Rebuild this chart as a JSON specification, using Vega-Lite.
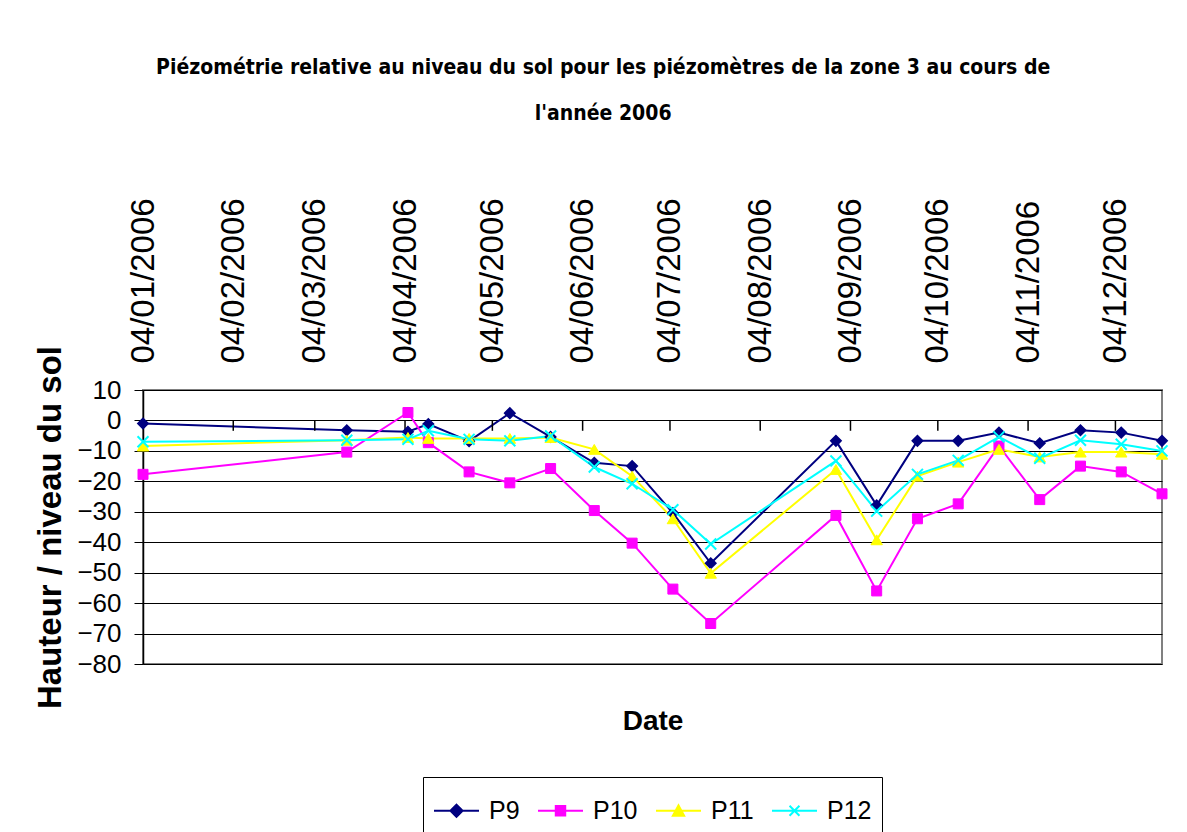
{
  "$schema": "https://vega.github.io/schema/vega-lite/v6.json",
  "width": 1019,
  "height": 274,
  "padding": {"left": 34, "top": 56, "right": 20, "bottom": 0},
  "background": "white",
  "title": {
    "text": ["Piézométrie relative au niveau du sol pour les piézomètres de la zone 3 au cours de", "l'année 2006"],
    "font": "DejaVu Sans Condensed",
    "fontSize": 21,
    "fontWeight": "bold",
    "lineHeight": 46,
    "anchor": "middle",
    "frame": "bounds",
    "offset": 74,
    "color": "black"
  },
  "datasets": {
    "obs": [
      {"date": "2006/01/04", "series": "P9", "value": -1.0},
      {"date": "2006/03/15", "series": "P9", "value": -3.2},
      {"date": "2006/04/05", "series": "P9", "value": -3.7},
      {"date": "2006/04/12", "series": "P9", "value": -1.2},
      {"date": "2006/04/26", "series": "P9", "value": -6.8},
      {"date": "2006/05/10", "series": "P9", "value": 2.4},
      {"date": "2006/05/24", "series": "P9", "value": -5.4},
      {"date": "2006/06/08", "series": "P9", "value": -13.9},
      {"date": "2006/06/21", "series": "P9", "value": -15.0},
      {"date": "2006/07/05", "series": "P9", "value": -30.4},
      {"date": "2006/07/18", "series": "P9", "value": -46.9},
      {"date": "2006/08/30", "series": "P9", "value": -6.7},
      {"date": "2006/09/13", "series": "P9", "value": -27.9},
      {"date": "2006/09/27", "series": "P9", "value": -6.7},
      {"date": "2006/10/11", "series": "P9", "value": -6.7},
      {"date": "2006/10/25", "series": "P9", "value": -4.0},
      {"date": "2006/11/08", "series": "P9", "value": -7.5},
      {"date": "2006/11/22", "series": "P9", "value": -3.2},
      {"date": "2006/12/06", "series": "P9", "value": -4.0},
      {"date": "2006/12/20", "series": "P9", "value": -6.7},
      {"date": "2006/01/04", "series": "P10", "value": -17.7},
      {"date": "2006/03/15", "series": "P10", "value": -10.4},
      {"date": "2006/04/05", "series": "P10", "value": 2.6},
      {"date": "2006/04/12", "series": "P10", "value": -7.3},
      {"date": "2006/04/26", "series": "P10", "value": -16.9},
      {"date": "2006/05/10", "series": "P10", "value": -20.5},
      {"date": "2006/05/24", "series": "P10", "value": -15.8},
      {"date": "2006/06/08", "series": "P10", "value": -29.6},
      {"date": "2006/06/21", "series": "P10", "value": -40.3},
      {"date": "2006/07/05", "series": "P10", "value": -55.4},
      {"date": "2006/07/18", "series": "P10", "value": -66.7},
      {"date": "2006/08/30", "series": "P10", "value": -31.2},
      {"date": "2006/09/13", "series": "P10", "value": -56.0},
      {"date": "2006/09/27", "series": "P10", "value": -32.3},
      {"date": "2006/10/11", "series": "P10", "value": -27.4},
      {"date": "2006/10/25", "series": "P10", "value": -8.4},
      {"date": "2006/11/08", "series": "P10", "value": -26.0},
      {"date": "2006/11/22", "series": "P10", "value": -15.0},
      {"date": "2006/12/06", "series": "P10", "value": -16.9},
      {"date": "2006/12/20", "series": "P10", "value": -24.1},
      {"date": "2006/01/04", "series": "P11", "value": -8.4},
      {"date": "2006/03/15", "series": "P11", "value": -6.5},
      {"date": "2006/04/05", "series": "P11", "value": -5.6},
      {"date": "2006/04/12", "series": "P11", "value": -5.9},
      {"date": "2006/04/26", "series": "P11", "value": -5.9},
      {"date": "2006/05/10", "series": "P11", "value": -5.9},
      {"date": "2006/05/24", "series": "P11", "value": -5.6},
      {"date": "2006/06/08", "series": "P11", "value": -9.5},
      {"date": "2006/06/21", "series": "P11", "value": -18.3},
      {"date": "2006/07/05", "series": "P11", "value": -32.3},
      {"date": "2006/07/18", "series": "P11", "value": -50.2},
      {"date": "2006/08/30", "series": "P11", "value": -16.1},
      {"date": "2006/09/13", "series": "P11", "value": -39.2},
      {"date": "2006/09/27", "series": "P11", "value": -18.3},
      {"date": "2006/10/11", "series": "P11", "value": -13.7},
      {"date": "2006/10/25", "series": "P11", "value": -9.5},
      {"date": "2006/11/08", "series": "P11", "value": -12.0},
      {"date": "2006/11/22", "series": "P11", "value": -10.4},
      {"date": "2006/12/06", "series": "P11", "value": -10.4},
      {"date": "2006/12/20", "series": "P11", "value": -11.1},
      {"date": "2006/01/04", "series": "P12", "value": -7.0},
      {"date": "2006/03/15", "series": "P12", "value": -6.5},
      {"date": "2006/04/05", "series": "P12", "value": -6.2},
      {"date": "2006/04/12", "series": "P12", "value": -3.4},
      {"date": "2006/04/26", "series": "P12", "value": -6.2},
      {"date": "2006/05/10", "series": "P12", "value": -6.7},
      {"date": "2006/05/24", "series": "P12", "value": -5.1},
      {"date": "2006/06/08", "series": "P12", "value": -15.3},
      {"date": "2006/06/21", "series": "P12", "value": -20.8},
      {"date": "2006/07/05", "series": "P12", "value": -29.3},
      {"date": "2006/07/18", "series": "P12", "value": -40.6},
      {"date": "2006/08/30", "series": "P12", "value": -13.3},
      {"date": "2006/09/13", "series": "P12", "value": -29.8},
      {"date": "2006/09/27", "series": "P12", "value": -17.7},
      {"date": "2006/10/11", "series": "P12", "value": -13.1},
      {"date": "2006/10/25", "series": "P12", "value": -5.4},
      {"date": "2006/11/08", "series": "P12", "value": -12.4},
      {"date": "2006/11/22", "series": "P12", "value": -6.5},
      {"date": "2006/12/06", "series": "P12", "value": -7.8},
      {"date": "2006/12/20", "series": "P12", "value": -10.0}
    ],
    "months": [
      {"date": "2006/02/04"}, {"date": "2006/03/04"}, {"date": "2006/04/04"},
      {"date": "2006/05/04"}, {"date": "2006/06/04"}, {"date": "2006/07/04"},
      {"date": "2006/08/04"}, {"date": "2006/09/04"}, {"date": "2006/10/04"},
      {"date": "2006/11/04"}, {"date": "2006/12/04"}
    ]
  },
  "layer": [
    {
      "data": {"name": "obs"},
      "mark": {"type": "line", "strokeWidth": 2},
      "encoding": {
        "x": {"field": "date", "type": "temporal",
              "scale": {"domain": [{"year": 2006, "month": 1, "date": 4}, {"year": 2006, "month": 12, "date": 20}], "nice": false},
              "axis": {
                "orient": "top",
                "values": [
                  {"year": 2006, "month": 1, "date": 4}, {"year": 2006, "month": 2, "date": 4},
                  {"year": 2006, "month": 3, "date": 4}, {"year": 2006, "month": 4, "date": 4},
                  {"year": 2006, "month": 5, "date": 4}, {"year": 2006, "month": 6, "date": 4},
                  {"year": 2006, "month": 7, "date": 4}, {"year": 2006, "month": 8, "date": 4},
                  {"year": 2006, "month": 9, "date": 4}, {"year": 2006, "month": 10, "date": 4},
                  {"year": 2006, "month": 11, "date": 4}, {"year": 2006, "month": 12, "date": 4}
                ],
                "format": "%d/%m/%Y",
                "labelAngle": -90,
                "labelFont": "Liberation Sans",
                "labelFontSize": 33,
                "labelColor": "black",
                "labelPadding": 27,
                "labelOverlap": false,
                "labelFlush": false,
                "labelBound": false,
                "ticks": false,
                "domain": false,
                "grid": false,
                "title": null
              }},
        "y": {"field": "value", "type": "quantitative", "title": "Hauteur / niveau du sol",
              "scale": {"domain": [-80, 10], "nice": false, "zero": false},
              "axis": {"grid": true, "gridColor": "black", "gridWidth": 1, "gridOpacity": 1}},
        "color": {"field": "series", "type": "nominal",
                  "scale": {"domain": ["P9", "P10", "P11", "P12"], "range": ["#000080", "#FF00FF", "#FFFF00", "#00FFFF"]},
                  "legend": {
                    "title": null,
                    "orient": "none",
                    "legendX": 280,
                    "legendY": 387,
                    "direction": "horizontal",
                    "strokeColor": "black",
                    "padding": 10,
                    "labelFont": "Liberation Sans",
                    "labelFontSize": 25,
                    "labelColor": "black",
                    "labelOffset": 9,
                    "columnPadding": 14,
                    "symbolSize": 2025,
                    "symbolStrokeWidth": 2,
                    "encode": {
                      "symbols": {
                        "update": {
                          "shape": {"signal": "datum.value === 'P9' ? 'M-1,0H1M0,-0.27L0.27,0L0,0.27L-0.27,0Z' : datum.value === 'P10' ? 'M-1,0H1M-0.21,-0.21H0.21V0.21H-0.21Z' : datum.value === 'P11' ? 'M-1,0H1M-0.25,0.22H0.25L0,-0.24Z' : 'M-1,0H1M-0.22,-0.22L0.22,0.22M-0.22,0.22L0.22,-0.22'"},
                          "fill": {"signal": "datum.value === 'P9' ? '#000080' : datum.value === 'P10' ? '#FF00FF' : datum.value === 'P11' ? '#FFFF00' : 'transparent'"},
                          "stroke": {"signal": "datum.value === 'P9' ? '#000080' : datum.value === 'P10' ? '#FF00FF' : datum.value === 'P11' ? '#FFFF00' : '#00FFFF'"},
                          "strokeWidth": {"value": 2},
                          "opacity": {"value": 1}
                        }
                      }
                    }
                  }}
      }
    },
    {
      "data": {"name": "months"},
      "mark": {"type": "rule", "color": "black", "strokeWidth": 1.5},
      "encoding": {
        "x": {"field": "date", "type": "temporal", "axis": null},
        "y": {"datum": 0, "type": "quantitative", "title": "Hauteur / niveau du sol"},
        "y2": {"datum": -3.4}
      }
    },
    {
      "data": {"name": "obs"},
      "transform": [{"filter": "datum.series === 'P9'"}],
      "mark": {"type": "point", "shape": "diamond", "filled": true, "strokeWidth": 1.5, "opacity": 1, "size": 110},
      "encoding": {
        "x": {"field": "date", "type": "temporal",
              "axis": {
                "orient": "bottom",
                "labels": false,
                "ticks": false,
                "domain": false,
                "grid": false,
                "title": "Date",
                "titleFont": "Liberation Sans",
                "titleFontSize": 28,
                "titleFontWeight": "bold",
                "titleColor": "black",
                "titlePadding": 43
              }},
        "y": {"field": "value", "type": "quantitative", "title": "Hauteur / niveau du sol"},
        "color": {"field": "series", "type": "nominal"},
        "stroke": {"field": "series", "type": "nominal", "legend": null,
                   "scale": {"domain": ["P9", "P10", "P11", "P12"], "range": ["#000080", "#FF00FF", "#FFFF00", "#00FFFF"]}}
      }
    },
    {
      "data": {"name": "obs"},
      "transform": [{"filter": "datum.series === 'P10'"}],
      "mark": {"type": "point", "shape": "square", "filled": true, "strokeWidth": 1, "opacity": 1, "size": 100},
      "encoding": {
        "x": {"field": "date", "type": "temporal", "axis": null},
        "y": {"field": "value", "type": "quantitative", "title": "Hauteur / niveau du sol"},
        "color": {"field": "series", "type": "nominal"},
        "stroke": {"field": "series", "type": "nominal", "legend": null}
      }
    },
    {
      "data": {"name": "obs"},
      "transform": [{"filter": "datum.series === 'P11'"}],
      "mark": {"type": "point", "shape": "triangle-up", "filled": true, "strokeWidth": 1, "opacity": 1, "size": 130},
      "encoding": {
        "x": {"field": "date", "type": "temporal", "axis": null},
        "y": {"field": "value", "type": "quantitative", "title": "Hauteur / niveau du sol"},
        "color": {"field": "series", "type": "nominal"},
        "stroke": {"field": "series", "type": "nominal", "legend": null}
      }
    },
    {
      "data": {"name": "obs"},
      "transform": [{"filter": "datum.series === 'P12'"}],
      "mark": {"type": "point", "shape": "M-1,-1L1,1M-1,1L1,-1", "filled": false, "strokeWidth": 2, "opacity": 1, "size": 120},
      "encoding": {
        "x": {"field": "date", "type": "temporal", "axis": null},
        "y": {"field": "value", "type": "quantitative", "title": "Hauteur / niveau du sol"},
        "color": {"field": "series", "type": "nominal"}
      }
    }
  ],
  "resolve": {"axis": {"x": "independent"}},
  "config": {
    "view": {"stroke": "#808080", "strokeWidth": 2},
    "axisY": {
      "values": [10, 0, -10, -20, -30, -40, -50, -60, -70, -80],
      "grid": true,
      "labelFont": "Liberation Sans",
      "labelFontSize": 26,
      "labelColor": "black",
      "labelPadding": 13,
      "tickSize": 9,
      "tickColor": "black",
      "domainColor": "black",
      "domainWidth": 1.5,
      "gridColor": "black",
      "gridWidth": 1,
      "gridOpacity": 1,
      "titleFont": "Liberation Sans",
      "titleFontSize": 33,
      "titleFontWeight": "bold",
      "titleColor": "black",
      "titlePadding": 9
    }
  }
}
